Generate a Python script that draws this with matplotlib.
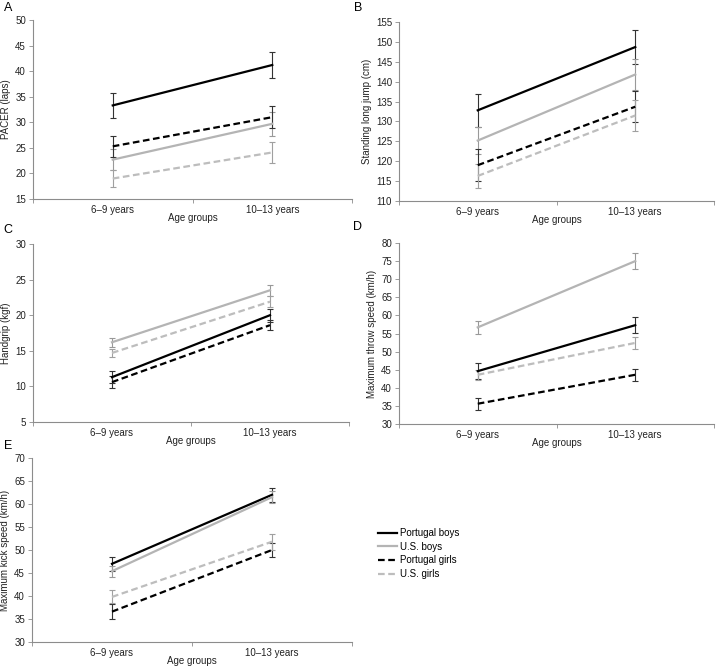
import matplotlib
matplotlib.use("Agg")
import matplotlib.pyplot as plt
import numpy as np

plt.rcParams['font.family'] = ['Liberation Sans', 'DejaVu Sans']

age_groups = ["6\u20139 years", "10\u201313 years"]
series_names = ["Portugal boys", "U.S. boys", "Portugal girls", "U.S. girls"]

# Panel A: PACER (laps)
pacer_mean = {"Portugal boys": [33.3, 41.2], "U.S. boys": [22.7, 29.7],
              "Portugal girls": [25.3, 31.0], "U.S. girls": [19.0, 24.1]}
pacer_err = {"Portugal boys": [2.5, 2.5], "U.S. boys": [2.0, 2.3],
             "Portugal girls": [2.1, 2.1], "U.S. girls": [1.6, 2.0]}
# Panel B: Standing long jump (cm)
slj_mean = {"Portugal boys": [132.8, 148.7], "U.S. boys": [125.2, 141.8],
            "Portugal girls": [119.0, 133.7], "U.S. girls": [116.3, 131.5]}
slj_err = {"Portugal boys": [4.2, 4.2], "U.S. boys": [3.4, 3.8],
           "Portugal girls": [4.0, 3.9], "U.S. girls": [3.0, 3.8]}
# Panel C: Handgrip (kgf)
hg_mean = {"Portugal boys": [11.3, 20.0], "U.S. boys": [16.2, 23.5],
           "Portugal girls": [10.6, 18.6], "U.S. girls": [14.7, 21.9]}
hg_err = {"Portugal boys": [0.8, 0.9], "U.S. boys": [0.6, 0.8],
          "Portugal girls": [0.8, 0.7], "U.S. girls": [0.6, 0.8]}
# Panel D: Maximum throw speed (km/h)
ts_mean = {"Portugal boys": [44.6, 57.3], "U.S. boys": [56.7, 75.0],
           "Portugal girls": [35.6, 43.6], "U.S. girls": [43.6, 52.4]}
ts_err = {"Portugal boys": [2.2, 2.2], "U.S. boys": [1.7, 2.1],
          "Portugal girls": [1.6, 1.7], "U.S. girls": [1.4, 1.7]}
# Panel E: Maximum kick speed (km/h)
ks_mean = {"Portugal boys": [47.0, 62.0], "U.S. boys": [45.4, 61.5],
           "Portugal girls": [36.6, 50.0], "U.S. girls": [39.8, 51.8]}
ks_err = {"Portugal boys": [1.5, 1.5], "U.S. boys": [1.2, 1.3],
          "Portugal girls": [1.6, 1.6], "U.S. girls": [1.4, 1.7]}

styles = {
    "Portugal boys": dict(color="black", ls="-", lw=1.6),
    "U.S. boys": dict(color="#b4b4b4", ls="-", lw=1.6),
    "Portugal girls": dict(color="black", ls=(0, (3, 1.6)), lw=1.6),
    "U.S. girls": dict(color="#bdbdbd", ls=(0, (3, 1.6)), lw=1.6),
}
err_colors = {"Portugal boys": "#333333", "U.S. boys": "#999999",
              "Portugal girls": "#333333", "U.S. girls": "#a0a0a0"}

W, H = 716, 668
fig = plt.figure(figsize=(W / 100, H / 100), dpi=100)

def add_ax(l, t, r, b):
    return fig.add_axes([l / W, 1 - b / H, (r - l) / W, (b - t) / H])

panels = [
    ("A", (33, 20, 352, 199), pacer_mean, pacer_err, "PACER (laps)", (15, 50), 5, (8, 8)),
    ("B", (399, 22, 714, 201), slj_mean, slj_err, "Standing long jump (cm)", (110, 155), 5, (358, 8)),
    ("C", (33, 244, 349, 422), hg_mean, hg_err, "Handgrip (kgf)", (5, 30), 5, (8, 230)),
    ("D", (399, 243, 714, 424), ts_mean, ts_err, "Maximum throw speed (km/h)", (30, 80), 5, (358, 227)),
    ("E", (32, 458, 352, 642), ks_mean, ks_err, "Maximum kick speed (km/h)", (30, 70), 5, (8, 446)),
]

xpos = np.array([0.5, 1.5])
spine_col = "#8c8c8c"
lines_for_legend = []
for letter, box, means, errs, ylabel, ylim, step, lpos in panels:
    ax = add_ax(*box)
    for name in series_names:
        st = styles[name]
        ax.errorbar(xpos, means[name], yerr=errs[name], fmt="none",
                    ecolor=err_colors[name], elinewidth=0.8, capsize=2.5, capthick=0.8, zorder=2)
        ln, = ax.plot(xpos, means[name], color=st["color"], ls=st["ls"], lw=st["lw"],
                      zorder=3, label=name)
        if letter == "A":
            lines_for_legend.append(ln)
    ax.set_xlim(0, 2)
    ax.set_ylim(*ylim)
    ax.set_yticks(np.arange(ylim[0], ylim[1] + 0.1, step))
    ax.set_xticks([0, 1, 2])
    ax.set_xticklabels([])
    ax.set_xticks(xpos, minor=True)
    ax.set_xticklabels(age_groups, minor=True)
    ax.tick_params(axis="x", which="minor", length=0, pad=4, labelsize=7, colors="#222222")
    ax.tick_params(axis="x", which="major", length=3, width=0.6, color=spine_col, direction="out")
    ax.tick_params(axis="y", length=3, width=0.6, color=spine_col, labelsize=7,
                   labelcolor="#222222", pad=2)
    for s in ["top", "right"]:
        ax.spines[s].set_visible(False)
    for s in ["left", "bottom"]:
        ax.spines[s].set_color(spine_col)
        ax.spines[s].set_linewidth(0.8)
    ax.set_ylabel(ylabel, fontsize=7, color="#222222", labelpad=3)
    ax.set_xlabel("Age groups", fontsize=7, color="#222222", labelpad=-1)
    fig.text(lpos[0] / W, 1 - lpos[1] / H, letter, fontsize=9, ha="center", va="center")

fig.legend(handles=lines_for_legend, labels=series_names,
           loc="upper left", bbox_to_anchor=(378 / W, 1 - 528 / H),
           frameon=False, fontsize=7, handlelength=2.0, handletextpad=0.25,
           labelspacing=0.38, borderpad=0, borderaxespad=0)

fig.savefig("out.png", dpi=100)
